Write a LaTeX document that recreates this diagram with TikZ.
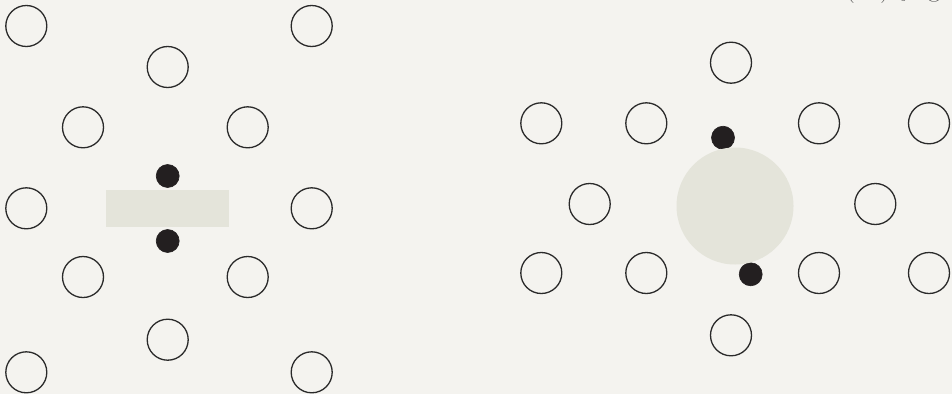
\documentclass[tikz,border=0pt]{standalone}
\begin{document}
\begin{tikzpicture}[x=1pt,y=-1pt,
  ring/.style={circle,draw=ringc,line width=1.3pt,fill=none,minimum size=41pt,inner sep=0pt},
  dot/.style={circle,draw=dotc,line width=0.6pt,fill=dotc,minimum size=23pt,inner sep=0pt},
  zone/.style={fill=zonec,draw=none}]
\definecolor{bgc}{HTML}{F4F3EF}
\definecolor{ringc}{HTML}{2A2A2A}
\definecolor{dotc}{HTML}{231F20}
\definecolor{zonec}{HTML}{E4E4DA}
\useasboundingbox (0,0) rectangle (952,394);
\fill[bgc] (0,0) rectangle (952,394);
% left panel
\node[ring] (l1) at (26.3,26) {};
\node[ring] (l2) at (311.7,26) {};
\node[ring] (l3) at (167.7,67) {};
\node[ring] (l4) at (83,127.3) {};
\node[ring] (l5) at (247.7,127.3) {};
\node[ring] (l6) at (26.3,208.3) {};
\node[ring] (l7) at (311.7,208.3) {};
\node[ring] (l8) at (83,277) {};
\node[ring] (l9) at (247.7,277) {};
\node[ring] (l10) at (167.7,339.7) {};
\node[ring] (l11) at (26.3,372.3) {};
\node[ring] (l12) at (311.7,372.3) {};
\fill[zone] (106,190) rectangle (229,227);
\node[dot] (ld1) at (167.7,176) {};
\node[dot] (ld2) at (167.7,241) {};
% right panel
\node[ring] (r1) at (731,62.7) {};
\node[ring] (r2) at (541.3,123.3) {};
\node[ring] (r3) at (646.3,123.3) {};
\node[ring] (r4) at (819,123.3) {};
\node[ring] (r5) at (929,123.3) {};
\node[ring] (r6) at (589.7,204) {};
\node[ring] (r7) at (875.3,204) {};
\node[ring] (r8) at (541.3,273) {};
\node[ring] (r9) at (646.3,273) {};
\node[ring] (r10) at (819,273) {};
\node[ring] (r11) at (929,273) {};
\node[ring] (r12) at (731,335.3) {};
\node[dot] (rd1) at (723,137.7) {};
\node[dot] (rd2) at (750.7,274.3) {};
\node[circle,fill=zonec,minimum size=117pt,inner sep=0pt] (core) at (735,206) {};
% cut-off caption at top right
\node[anchor=base west,text=ringc!85,font=\fontsize{28}{30}\selectfont,inner sep=0pt] (cap) at (845,-4) {(\hspace{25pt})\hspace{10pt}$f$\hspace{13pt}g};
\end{tikzpicture}
\end{document}
